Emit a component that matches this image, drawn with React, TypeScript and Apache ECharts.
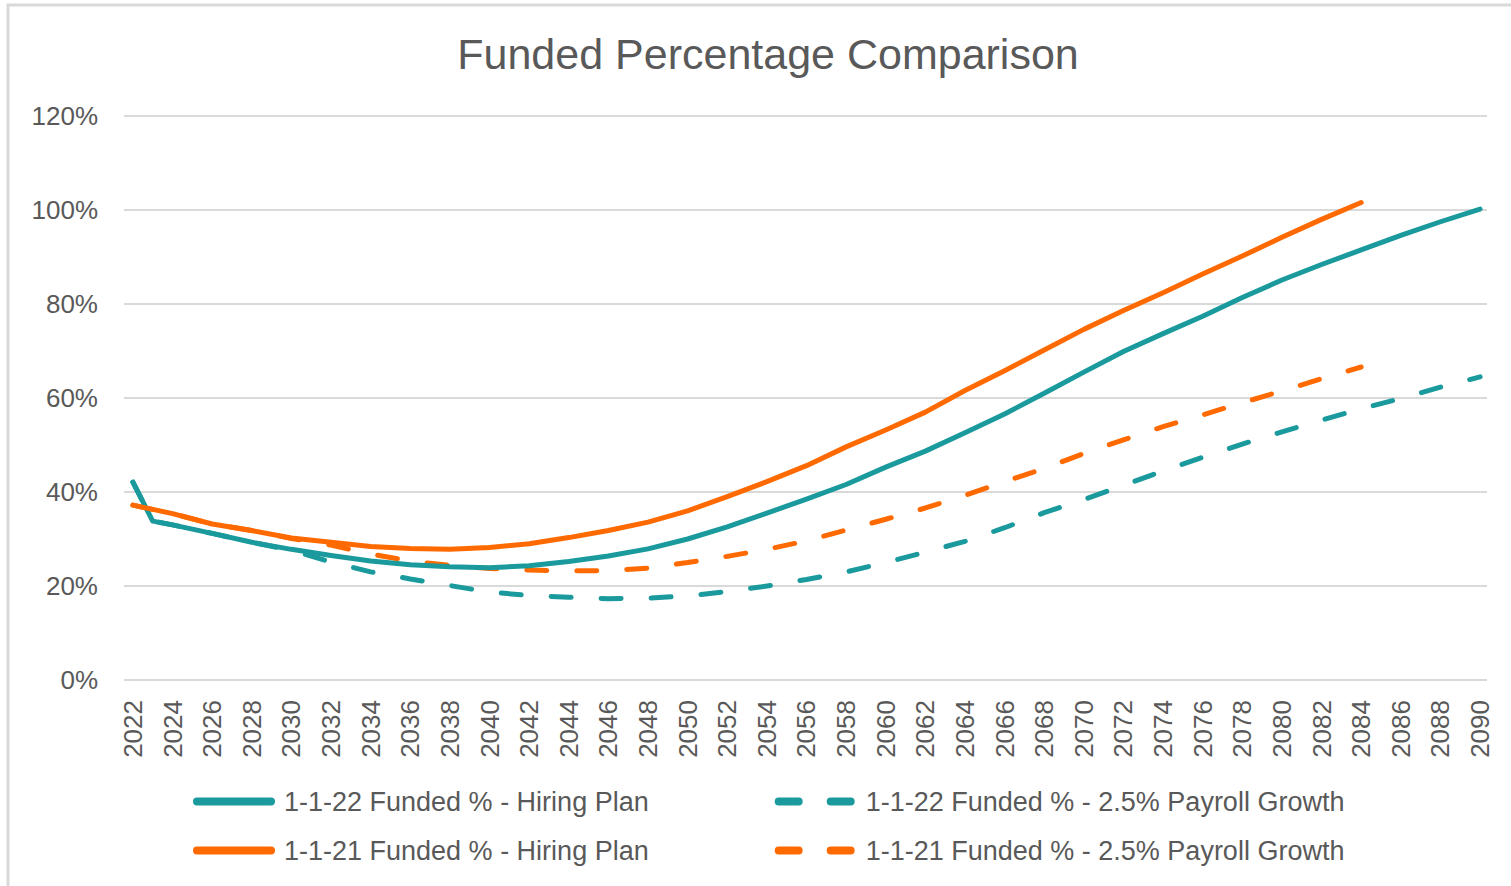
import React, { useEffect, useRef } from "react";
import * as echarts from "echarts";

const years = [2022, 2023, 2024, 2026, 2028, 2030, 2032, 2034, 2036, 2038, 2040, 2042, 2044, 2046, 2048, 2050, 2052, 2054, 2056, 2058, 2060, 2062, 2064, 2066, 2068, 2070, 2072, 2074, 2076, 2078, 2080, 2082, 2084, 2086, 2088, 2090];

const hiring22 = [42.1, 33.8, 33.0, 31.2, 29.3, 27.8, 26.5, 25.3, 24.5, 24.1, 23.9, 24.3, 25.2, 26.4, 27.9, 30.0, 32.6, 35.5, 38.5, 41.6, 45.3, 48.7, 52.6, 56.6, 61.0, 65.5, 69.9, 73.7, 77.4, 81.4, 85.1, 88.4, 91.5, 94.6, 97.5, 100.2];
const payroll22 = [42.1, 33.8, 33.0, 31.2, 29.3, 27.6, 25.1, 23.0, 21.5, 20.1, 18.7, 18.0, 17.6, 17.3, 17.4, 17.9, 18.8, 20.0, 21.4, 23.0, 25.0, 27.2, 29.5, 32.4, 35.6, 38.4, 41.4, 44.5, 47.4, 50.2, 52.8, 55.3, 57.7, 59.9, 62.3, 64.5];
const hiring21 = [37.2, 36.3, 35.4, 33.2, 31.8, 30.2, 29.3, 28.4, 28.0, 27.8, 28.2, 29.0, 30.3, 31.8, 33.6, 36.0, 39.0, 42.2, 45.6, 49.6, 53.2, 57.0, 61.6, 65.8, 70.2, 74.6, 78.6, 82.4, 86.4, 90.2, 94.2, 98.0, 101.6, null, null, null];
const payroll21 = [37.2, 36.3, 35.4, 33.2, 31.8, 30.1, 28.7, 26.8, 25.3, 24.4, 23.7, 23.4, 23.2, 23.3, 23.8, 25.0, 26.3, 27.8, 29.6, 31.9, 34.2, 36.6, 39.3, 42.2, 45.0, 48.2, 51.1, 53.9, 56.4, 59.0, 61.5, 64.1, 66.6, null, null, null];

const xTickYears = [2022, 2024, 2026, 2028, 2030, 2032, 2034, 2036, 2038, 2040, 2042, 2044, 2046, 2048, 2050, 2052, 2054, 2056, 2058, 2060, 2062, 2064, 2066, 2068, 2070, 2072, 2074, 2076, 2078, 2080, 2082, 2084, 2086, 2088, 2090];

const seriesNames = [
  "1-1-22 Funded % - Hiring Plan",
  "1-1-22 Funded % - 2.5% Payroll Growth",
  "1-1-21 Funded % - Hiring Plan",
  "1-1-21 Funded % - 2.5% Payroll Growth",
];

const TEAL = "#1a9a9c";
const ORANGE = "#ff6a00";
const TEXT = "#595959";
const FONT = "Liberation Sans, Arial, sans-serif";

function pairs(vals: (number | null)[]) {
  const out: [number, number][] = [];
  years.forEach((y, i) => {
    const v = vals[i];
    if (v !== null && v !== undefined) out.push([y, v]);
  });
  return out;
}

export default function App() {
  const ref = useRef<HTMLDivElement>(null);
  useEffect(() => {
    if (!ref.current) return;
    const chart = echarts.init(ref.current, undefined, { renderer: "svg" });
    const legendCommon = {
      left: 193,
      padding: 0,
      orient: "horizontal",
      itemWidth: 74,
      itemHeight: 14,
      itemGap: 126,
      itemStyle: { opacity: 0 },
      lineStyle: { width: 8, cap: "round" },
      textStyle: { fontSize: 27, color: TEXT, fontFamily: FONT, padding: [0, 0, 0, 8] },
      selectedMode: false,
    };
    const dashLegend = { type: [20, 32], width: 8, cap: "round" };
    chart.setOption({
      animation: false,
      backgroundColor: "#ffffff",
      textStyle: { fontFamily: FONT },
      title: {
        text: "Funded Percentage Comparison",
        left: 763,
        textAlign: "center",
        top: 27,
        textStyle: { fontSize: 43, fontWeight: "normal", color: TEXT, fontFamily: FONT },
      },
      graphic: [
        {
          type: "rect",
          shape: { x: 8, y: 5, width: 1520, height: 900 },
          style: { fill: "none", stroke: "#d9d9d9", lineWidth: 3 },
          silent: true,
          z: -1,
        },
      ],
      legend: [
        {
          ...legendCommon,
          top: 788,
          data: [
            { name: seriesNames[0] },
            { name: seriesNames[1], lineStyle: dashLegend },
          ],
        },
        {
          ...legendCommon,
          top: 837,
          data: [
            { name: seriesNames[2] },
            { name: seriesNames[3], lineStyle: dashLegend },
          ],
        },
      ],
      grid: { left: 124, right: 24, top: 116, bottom: 206 },
      xAxis: {
        type: "value",
        min: 2021.55,
        max: 2090.35,
        axisLine: { show: false },
        axisTick: { show: false },
        splitLine: { show: false },
        axisLabel: {
          customValues: xTickYears,
          rotate: 90,
          margin: 20,
          fontSize: 26,
          color: TEXT,
          fontFamily: FONT,
          formatter: (v: number) => String(Math.round(v)),
        },
      },
      yAxis: {
        type: "value",
        min: 0,
        max: 120,
        interval: 20,
        axisLine: { show: false },
        axisTick: { show: false },
        splitLine: { lineStyle: { color: "#d9d9d9", width: 2 } },
        axisLabel: {
          formatter: "{value}%",
          margin: 26,
          fontSize: 26,
          color: TEXT,
          fontFamily: FONT,
        },
      },
      series: [
        {
          name: seriesNames[1],
          type: "line",
          data: pairs(payroll22),
          symbol: "none",
          color: TEAL,
          lineStyle: { color: TEAL, width: 5, type: [20, 30], cap: "round" },
        },
        {
          name: seriesNames[3],
          type: "line",
          data: pairs(payroll21),
          symbol: "none",
          color: ORANGE,
          lineStyle: { color: ORANGE, width: 5, type: [20, 30], cap: "round" },
        },
        {
          name: seriesNames[0],
          type: "line",
          data: pairs(hiring22),
          symbol: "none",
          color: TEAL,
          lineStyle: { color: TEAL, width: 5, cap: "round", join: "round" },
        },
        {
          name: seriesNames[2],
          type: "line",
          data: pairs(hiring21),
          symbol: "none",
          color: ORANGE,
          lineStyle: { color: ORANGE, width: 5, cap: "round", join: "round" },
        },
      ],
    });
    return () => chart.dispose();
  }, []);
  return (
    <div
      ref={ref}
      style={{ position: "fixed", left: 0, top: 0, width: 1511, height: 886 }}
    />
  );
}
